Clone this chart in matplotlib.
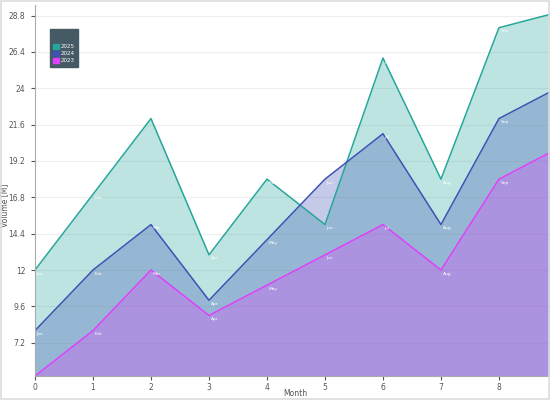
import matplotlib.pyplot as plt
from matplotlib.patches import Rectangle

months = ['Jan', 'Feb', 'Mar', 'Apr', 'May', 'Jun', 'Jul', 'Aug', 'Sep', 'Oct']
x_pos = list(range(len(months)))

vol_2025 = [12, 17, 22, 13, 18, 15, 26, 18, 28, 29]
vol_2024 = [8, 12, 15, 10, 14, 18, 21, 15, 22, 24]
vol_2023 = [5, 8, 12, 9, 11, 13, 15, 12, 18, 20]

series = [
    ('2025', vol_2025, '#26a69a'),
    ('2024', vol_2024, '#3f51b5'),
    ('2023', vol_2023, '#e040fb'),
]

y_ticks = [7.2, 9.6, 12, 14.4, 16.8, 19.2, 21.6, 24, 26.4, 28.8]
y_min, y_max = 5.0, 29.5
x_max = 8.88


def main():
    fig = plt.figure(figsize=(5.5, 4), dpi=100)
    ax = fig.add_axes([35 / 550, 24 / 400, 515 / 550, 371 / 400])

    for name, values, color in series:
        ax.fill_between(x_pos, values, y_min, color=color, alpha=0.3,
                        linewidth=0, label=name)
        ax.plot(x_pos, values, color=color, linewidth=1.1)
        for xi, yi, m in zip(x_pos, values, months):
            if xi > x_max - 0.2:
                continue  # point label falls outside the view
            ax.text(xi + 0.03, yi - 0.1, m, color='white', fontsize=3.2,
                    va='top', ha='left')

    ax.set_xlim(0, x_max)
    ax.set_ylim(y_min, y_max)
    ax.set_xticks(range(9))
    ax.set_yticks(y_ticks)
    ax.set_yticklabels([f'{v:g}' for v in y_ticks])
    ax.tick_params(labelsize=5.5, colors='#555555', length=3, width=0.8)
    ax.tick_params(axis='y', pad=4)
    ax.tick_params(axis='x', pad=2)
    ax.grid(axis='y', color='#eeeeee', linewidth=0.8)
    ax.set_axisbelow(True)
    for side in ['top', 'right']:
        ax.spines[side].set_visible(False)
    for side in ['left', 'bottom']:
        ax.spines[side].set_color('#aaaaaa')
        ax.spines[side].set_linewidth(0.8)

    ax.set_xlabel('Month', fontsize=5.5, color='#555555')
    ax.set_ylabel('Volume [M]', fontsize=5.5, color='#555555')
    ax.xaxis.set_label_coords(0.505, -0.036)
    ax.yaxis.set_label_coords(-0.051, 0.46)

    handles = [Rectangle((0, 0), 1, 1, color=c) for _, _, c in series]
    leg = ax.legend(handles, [n for n, _, _ in series], title=' ',
                    loc='upper left', bbox_to_anchor=(12 / 515, 1 - 21 / 371),
                    fontsize=4, title_fontsize=7, frameon=True,
                    fancybox=False, handlelength=1, handleheight=1,
                    handletextpad=0.4, labelspacing=0.3, borderpad=0.6)
    leg.get_frame().set_facecolor('#455a64')
    leg.get_frame().set_edgecolor('#455a64')
    leg.get_frame().set_alpha(1)
    for t in leg.get_texts():
        t.set_color('white')

    fig.add_artist(Rectangle((0.001, 0.003), 0.997, 0.995,
                             transform=fig.transFigure, fill=False,
                             edgecolor='#dddddd', linewidth=1.2))

    fig.savefig('out.png', dpi=100)
    plt.close(fig)


if __name__ == '__main__':
    main()
